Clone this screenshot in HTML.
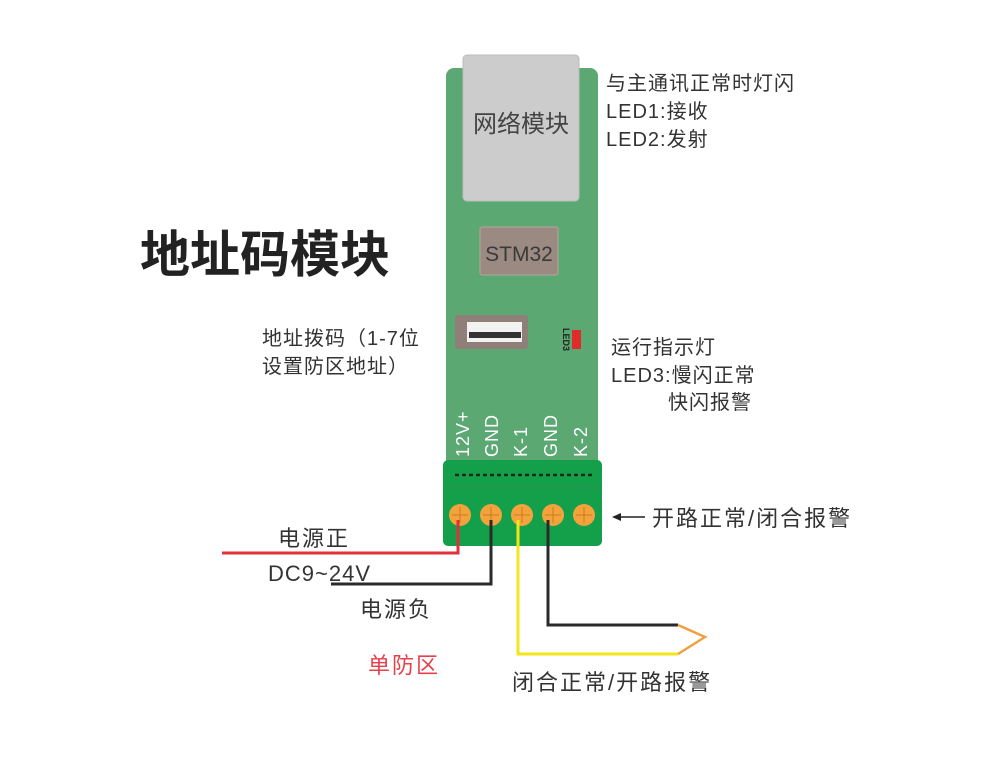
<!DOCTYPE html>
<html><head><meta charset="utf-8"><style>
body{margin:0;background:#fff;}
svg text{font-family:"Liberation Sans","Noto Sans CJK SC",sans-serif;}
</style></head><body>
<svg width="1000" height="752" xmlns="http://www.w3.org/2000/svg">
<rect width="1000" height="752" fill="#fff"/>
<rect x="446" y="68" width="152" height="400" rx="8" fill="#5ba873"/>
<rect x="463" y="55" width="116" height="146" rx="4" fill="#cccccc" stroke="#bdbdbd"/>
<text x="521" y="132" font-size="24" fill="#444" text-anchor="middle">网络模块</text>
<rect x="480" y="227" width="78" height="48" rx="2" fill="#9b8a82" stroke="#b5a59c"/>
<text x="519" y="261" font-size="21" fill="#3a3a3a" text-anchor="middle">STM32</text>
<rect x="455" y="315" width="73" height="34" rx="3" fill="#8f7f78"/>
<rect x="467" y="322" width="55" height="20" fill="#f2f2f2"/>
<g fill="#333"><rect x="469" y="332" width="52" height="6"/></g>
<rect x="572" y="330" width="9" height="19" fill="#e02b2b"/>
<text x="0" y="0" font-size="9" fill="#222" font-weight="bold" transform="translate(563,328) rotate(90)">LED3</text>
<g font-size="18" fill="#fff" letter-spacing="1">
<text transform="translate(469,457) rotate(-90)">12V+</text>
<text transform="translate(498,457) rotate(-90)">GND</text>
<text transform="translate(527,457) rotate(-90)">K-1</text>
<text transform="translate(557,457) rotate(-90)">GND</text>
<text transform="translate(587,457) rotate(-90)">K-2</text>
</g>
<rect x="443" y="460" width="159" height="86" rx="5" fill="#14a04b"/>
<line x1="455" y1="475" x2="592" y2="475" stroke="#1a2a1a" stroke-width="2.5" stroke-dasharray="4 3"/>
<line x1="443" y1="487" x2="602" y2="487" stroke="#2a8f55" stroke-width="1"/>
<g fill="#f4a33c"><circle cx="460" cy="515" r="11"/><circle cx="491" cy="515" r="11"/><circle cx="522" cy="515" r="11"/><circle cx="553" cy="515" r="11"/><circle cx="584" cy="515" r="11"/></g>
<g stroke="#c97d20" stroke-width="1"><path d="M460 507v16M452 515h16M491 507v16M483 515h16M522 507v16M514 515h16M553 507v16M545 515h16M584 507v16M576 515h16"/></g>
<g fill="none" stroke-width="3">
<path d="M458 520V553H222" stroke="#e0303a"/>
<path d="M491 520V584H331" stroke="#2a2a2a"/>
<path d="M518 520V654H678" stroke="#f2e51a"/>
<path d="M548 520V625H678" stroke="#2a2a2a"/>
<path d="M678 625L705 637L678 654" stroke="#f0a040" stroke-width="2.5"/>
</g>
<line x1="620" y1="517" x2="645" y2="517" stroke="#222" stroke-width="1.5"/>
<path d="M612 517l9-4v8z" fill="#222"/>
<text x="140" y="272" font-size="50" font-weight="bold" fill="#222">地址码模块</text>
<g font-size="20" fill="#333" letter-spacing="1">
<text x="606" y="90">与主通讯正常时灯闪</text>
<text x="606" y="118">LED1:接收</text>
<text x="606" y="146">LED2:发射</text>
<text x="262" y="345">地址拨码（1-7位</text>
<text x="262" y="373">设置防区地址）</text>
<text x="611" y="354">运行指示灯</text>
<text x="611" y="382">LED3:慢闪正常</text>
<text x="668" y="409">快闪报警</text>
</g>
<g font-size="22" fill="#333" letter-spacing="2">
<text x="652" y="526">开路正常/闭合报警</text>
<text x="278" y="546">电源正</text>
<text x="268" y="581" letter-spacing="1">DC9~24V</text>
<text x="360" y="617">电源负</text>
<text x="512" y="690">闭合正常/开路报警</text>
<text x="368" y="673" fill="#e8404a">单防区</text>
</g>
</svg>
</body></html>
